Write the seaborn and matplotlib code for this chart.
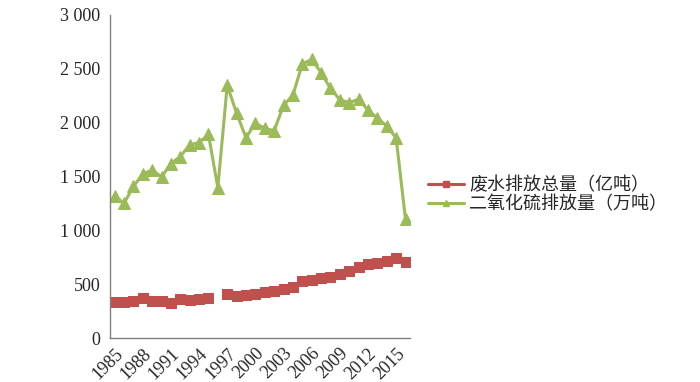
import numpy as np
import pandas as pd
import matplotlib
matplotlib.use('Agg')
import matplotlib.pyplot as plt
import seaborn as sns
from matplotlib.lines import Line2D
from matplotlib.ticker import FuncFormatter, FixedLocator

years = list(range(1985, 2017))
# 废水排放总量（亿吨），1996 年缺数据
wastewater = [334, 334, 343, 370, 347, 344, 330, 360, 358, 365, 369, np.nan,
              413, 392, 398, 410, 428, 438, 456, 478, 528, 538, 556, 570,
              592, 618, 662, 686, 699, 717, 744, 710]
# 二氧化硫排放量（万吨）
so2 = [1320, 1250, 1408, 1521, 1561, 1495, 1620, 1685, 1793, 1815, 1890, 1396,
       2346, 2088, 1860, 1995, 1947, 1924, 2159, 2254, 2545, 2586, 2465, 2318,
       2212, 2186, 2217, 2116, 2042, 1969, 1857, 1102]
label_ww = '废水排放总量（亿吨）'
label_so2 = '二氧化硫排放量（万吨）'

red = '#C0504D'
green = '#9BBB59'

sns.set_style('white')
plt.rcParams['font.family'] = ['Liberation Serif', 'Noto Sans CJK SC']

df = pd.DataFrame({'year': years, 'ww': wastewater, 'so2': so2})
# 分段编号，让缺失年份处断开
df['seg'] = df['ww'].isna().cumsum()
df_ww = df.dropna(subset=['ww'])

fig = plt.figure(figsize=(7, 3.82), dpi=100)
ax = fig.add_axes([0.157, 0.115, 0.429, 0.846])

sns.lineplot(data=df_ww, x='year', y='ww', units='seg', estimator=None,
             color=red, lw=2.2, marker='s', markersize=7, markeredgecolor=red,
             ax=ax)
sns.lineplot(data=df, x='year', y='so2', color=green, lw=2.2, marker='^',
             markersize=8, markeredgecolor=green, ax=ax)

ax.set_xlim(1984.5, 2016.5)
ax.set_ylim(0, 3000)
ax.set_xlabel('')
ax.set_ylabel('')

ax.set_xticks(list(range(1985, 2016, 3)))
ax.set_xticklabels([str(y) for y in range(1985, 2016, 3)], rotation=45,
                   ha='right', va='top', rotation_mode='anchor', fontsize=13)
ax.xaxis.set_minor_locator(FixedLocator(np.arange(1984.5, 2017, 1)))
ax.tick_params(axis='x', which='major', length=0, pad=5)
ax.tick_params(axis='x', which='minor', direction='in', length=4, color='#808080')

ax.set_yticks(np.arange(0, 3001, 500))
ax.yaxis.set_major_formatter(FuncFormatter(lambda v, p: f'{int(v):,}'.replace(',', ' ')))
ax.tick_params(axis='y', direction='out', length=4, color='#808080', labelsize=13, pad=3)

for s in ['top', 'right']:
    ax.spines[s].set_visible(False)
for s in ['left', 'bottom']:
    ax.spines[s].set_color('#808080')
    ax.spines[s].set_linewidth(1)

handles = [Line2D([], [], color=red, lw=2.2, marker='s', markersize=5),
           Line2D([], [], color=green, lw=2.2, marker='^', markersize=5)]
fig.legend(handles, [label_ww, label_so2], loc='center left',
           bbox_to_anchor=(0.611, 0.49), frameon=False,
           handlelength=2.0, handletextpad=0.3, labelspacing=0.1,
           borderpad=0, borderaxespad=0,
           prop={'family': ['Noto Sans CJK SC'], 'size': 13})

fig.savefig('out.png', dpi=100)
